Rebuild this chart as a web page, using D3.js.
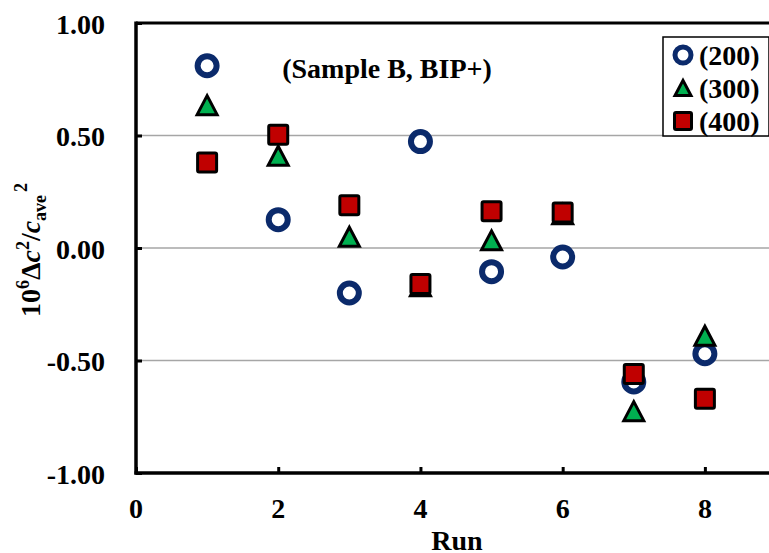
<!DOCTYPE html>
<html>
<head>
<meta charset="utf-8">
<script src="https://cdn.jsdelivr.net/npm/d3@7"></script>
<style>
  html, body { margin: 0; padding: 0; background: #fff; }
  svg { display: block; font-family: "Liberation Serif", "Times New Roman", serif; font-weight: bold; }
</style>
</head>
<body>
<svg id="chart" width="769" height="553"></svg>
<script>
// Run numbers and measured deviations for each series
const runs = [1, 2, 3, 4, 5, 6, 7, 8];
const s200 = [0.81, 0.126, -0.20, 0.473, -0.105, -0.04, -0.595, -0.47];
const s300 = [0.635, 0.41, 0.05, -0.17, 0.034, 0.15, -0.725, -0.39];
const s400 = [0.38, 0.503, 0.19, -0.16, 0.163, 0.158, -0.56, -0.67];
const seriesNames = ["(200)", "(300)", "(400)"];
const xTicks = [0, 2, 4, 6, 8];
const yTicks = [1.0, 0.5, 0.0, -0.5, -1.0];
const gridValues = [0.5, 0.0, -0.5];

const svg = d3.select("#chart");
const plotLeft = 136, plotRight = 776, plotTop = 23, plotBottom = 473;

const x = d3.scaleLinear().domain([0, 9]).range([plotLeft, plotRight]);
const y = d3.scaleLinear().domain([-1, 1]).range([plotBottom, plotTop]);
const fmt = d => d3.format(".2f")(d).replace("\u2212", "-");

// horizontal gridlines
svg.append("g").selectAll("line").data(gridValues).join("line")
  .attr("x1", plotLeft).attr("x2", 769)
  .attr("y1", d => y(d)).attr("y2", d => y(d))
  .attr("stroke", "#a6a6a6").attr("stroke-width", 1.5);

// plot area top border
svg.append("line").attr("x1", plotLeft).attr("x2", 769)
  .attr("y1", plotTop).attr("y2", plotTop)
  .attr("stroke", "#000").attr("stroke-width", 3);

// axes with inward ticks
const yAxis = d3.axisRight(y).tickValues(yTicks).tickSize(6).tickFormat("");
const gy = svg.append("g").attr("transform", `translate(${plotLeft},0)`).call(yAxis);
const xAxis = d3.axisTop(x).tickValues(xTicks).tickSize(6).tickFormat("");
const gx = svg.append("g").attr("transform", `translate(0,${plotBottom})`).call(xAxis);
[gx, gy].forEach(g => {
  g.select(".domain").remove();
  g.selectAll(".tick line").attr("stroke", "#000").attr("stroke-width", 3);
});
svg.append("line").attr("x1", plotLeft).attr("x2", plotLeft)
  .attr("y1", plotTop - 1.5).attr("y2", plotBottom + 1.5)
  .attr("stroke", "#000").attr("stroke-width", 3.5);
svg.append("line").attr("x1", plotLeft - 1.5).attr("x2", 769)
  .attr("y1", plotBottom).attr("y2", plotBottom)
  .attr("stroke", "#000").attr("stroke-width", 3.5);

// tick labels
svg.append("g").selectAll("text").data(yTicks).join("text")
  .attr("x", 105).attr("y", d => y(d) + 10.5)
  .attr("text-anchor", "end").attr("font-size", 28)
  .text(fmt);
svg.append("g").selectAll("text").data(xTicks).join("text")
  .attr("x", d => x(d)).attr("y", 518)
  .attr("text-anchor", "middle").attr("font-size", 28)
  .text(d => d);

// axis titles
svg.append("text").attr("x", 457).attr("y", 550)
  .attr("text-anchor", "middle").attr("font-size", 28).text("Run");

const yl = svg.append("text")
  .attr("transform", "translate(40,250) rotate(-90)")
  .attr("text-anchor", "middle").attr("font-size", 28);
yl.append("tspan").text("10");
yl.append("tspan").attr("font-size", 18).attr("dy", -11).text("6");
yl.append("tspan").attr("dy", 11).text("Δ");
yl.append("tspan").attr("font-style", "italic").text("c");
yl.append("tspan").attr("font-size", 18).attr("dy", -11).text("2");
yl.append("tspan").attr("dy", 11).text("/");
yl.append("tspan").attr("font-style", "italic").text("c");
yl.append("tspan").attr("font-size", 18).attr("dy", 6).text("ave");
yl.append("tspan").attr("font-size", 18).attr("dy", -19).attr("dx", 3).text("2");

// annotation
svg.append("text").attr("x", 387).attr("y", 78)
  .attr("text-anchor", "middle").attr("font-size", 28).text("(Sample B, BIP+)");

// marker painters
const navy = "#0b2a6b", green = "#00b050", red = "#c00000";
function circle(g, cx, cy, r, sw) {
  g.append("circle").attr("cx", cx).attr("cy", cy).attr("r", r)
    .attr("fill", "#fff").attr("stroke", navy).attr("stroke-width", sw);
}
function triangle(g, cx, cy, s) {
  const h = s * 0.95;
  g.append("path")
    .attr("d", `M${cx},${cy - h / 2}L${cx + s / 2},${cy + h / 2}L${cx - s / 2},${cy + h / 2}Z`)
    .attr("fill", green).attr("stroke", "#000").attr("stroke-width", 3)
    .attr("stroke-linejoin", "miter");
}
function square(g, cx, cy, s) {
  g.append("rect").attr("x", cx - s / 2).attr("y", cy - s / 2)
    .attr("width", s).attr("height", s).attr("rx", 1.5)
    .attr("fill", red).attr("stroke", "#000").attr("stroke-width", 3);
}

const marks = svg.append("g");
runs.forEach((r, i) => circle(marks, x(r), y(s200[i]), 9.5, 6));
runs.forEach((r, i) => triangle(marks, x(r), y(s300[i]), 20));
runs.forEach((r, i) => square(marks, x(r), y(s400[i]), 19));

// legend
const lg = svg.append("g");
lg.append("rect").attr("x", 663).attr("y", 37).attr("width", 106).attr("height", 99)
  .attr("fill", "#fff").attr("stroke", "#000").attr("stroke-width", 1.5);
const legY = [55, 88, 121];
circle(lg, 683, legY[0], 8, 5);
triangle(lg, 683, legY[1], 16);
square(lg, 683, legY[2], 17);
lg.selectAll("text").data(seriesNames).join("text")
  .attr("x", 699).attr("y", (d, i) => legY[i] + 10)
  .attr("font-size", 28).text(d => d);
</script>
</body>
</html>
